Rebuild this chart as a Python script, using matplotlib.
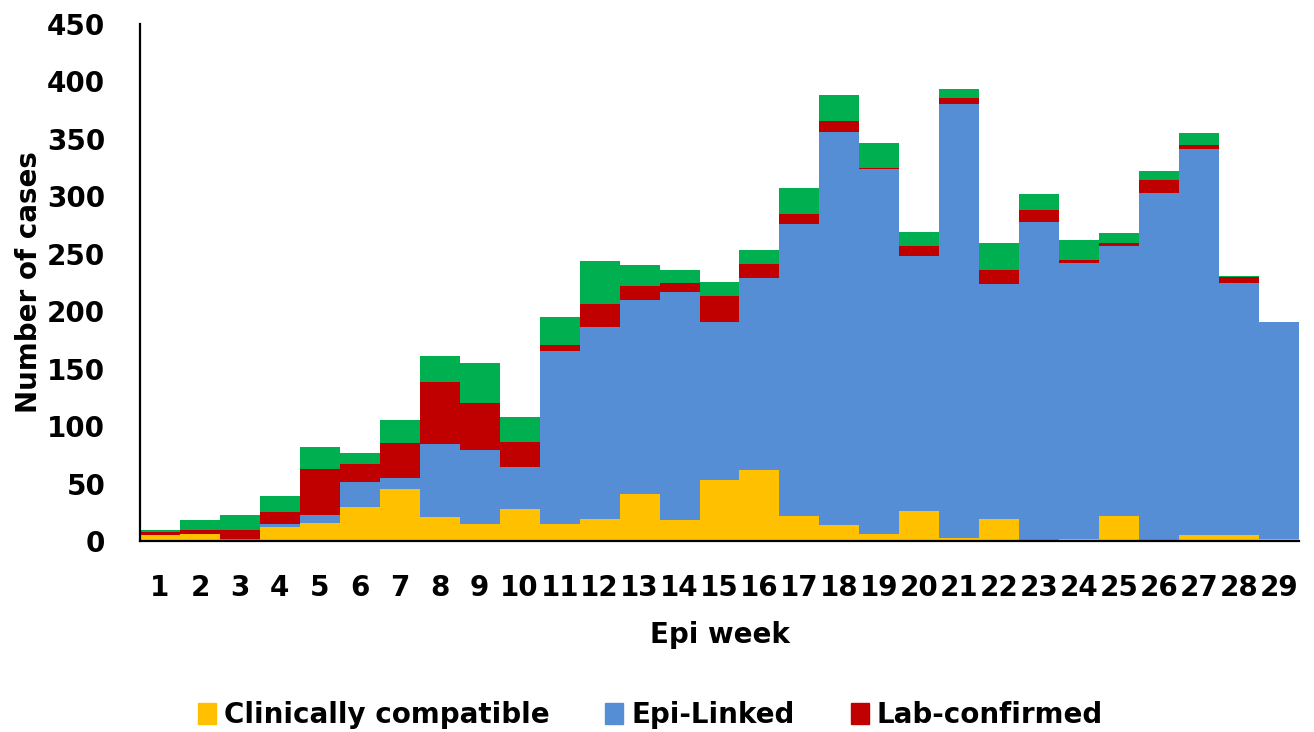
import numpy as np
import matplotlib.pyplot as plt
from matplotlib.patches import Patch

# Epi weeks 1..29
weeks = np.arange(1, 30)
week_labels = [str(w) for w in weeks]

clinically = [5, 6, 0, 12, 16, 30, 45, 21, 15, 28, 15, 19, 41, 18, 53,
              62, 22, 14, 6, 26, 3, 19, 0, 2, 22, 0, 5, 5, 2]
epi_linked = [0, 0, 2, 3, 7, 21, 10, 63, 64, 36, 150, 167, 169, 199, 138,
              167, 254, 342, 318, 222, 377, 205, 278, 240, 235, 303, 336, 220, 189]
lab_conf = [3, 4, 8, 10, 40, 16, 30, 54, 41, 22, 6, 20, 12, 8, 22,
            12, 9, 10, 1, 9, 6, 12, 10, 3, 2, 11, 4, 5, 0]
other = [2, 8, 13, 14, 19, 10, 20, 23, 35, 22, 24, 38, 18, 11, 12,
         12, 22, 22, 21, 12, 7, 23, 14, 17, 9, 8, 10, 1, 0]

series = [
    ("Clinically compatible", clinically, "#FFC000"),
    ("Epi-Linked", epi_linked, "#558ED5"),
    ("Lab-confirmed", lab_conf, "#C00000"),
    ("Other", other, "#00B050"),
]

plt.rcParams['font.family'] = ['DejaVu Sans']
plt.rcParams['font.weight'] = 'bold'

fig = plt.figure(figsize=(13.14, 7.32), dpi=100)
ax = fig.add_axes([140 / 1314, 191 / 732, 1159 / 1314, 517 / 732])

bottom = np.zeros(len(weeks))
for name, vals, col in series:
    ax.bar(weeks, vals, width=1.0, bottom=bottom, color=col, label=name,
           edgecolor='none')
    bottom += np.array(vals)

ax.set_xlim(0.5, 29.5)
ax.set_ylim(0, 450)
ax.set_yticks(np.arange(0, 451, 50))
ax.set_xticks(weeks)
ax.set_xticklabels(week_labels)

for s in ['top', 'right']:
    ax.spines[s].set_visible(False)
for s in ['left', 'bottom']:
    ax.spines[s].set_linewidth(1.6)
    ax.spines[s].set_color('black')

ax.tick_params(axis='y', length=0, pad=25, labelsize=20)
ax.tick_params(axis='x', length=0, pad=24, labelsize=20)
for lbl in ax.get_xticklabels() + ax.get_yticklabels():
    lbl.set_fontweight('bold')

ax.set_xlabel("Epi week", fontsize=20, fontweight='bold')
ax.xaxis.set_label_coords(0.5, -0.155)
ax.set_ylabel("Number of cases", fontsize=20, fontweight='bold')
ax.yaxis.set_label_coords(-0.084, 0.5)

handles = [Patch(color=c, label=n) for n, _, c in series[:3]]
fig.legend(handles=handles, loc='center', bbox_to_anchor=(0.495, 0.023),
           ncol=3, frameon=False, handlelength=0.65,
           handleheight=0.75, handletextpad=0.3, columnspacing=2.0,
           prop={'weight': 'bold', 'size': 20})

fig.savefig("out.png", dpi=100)
